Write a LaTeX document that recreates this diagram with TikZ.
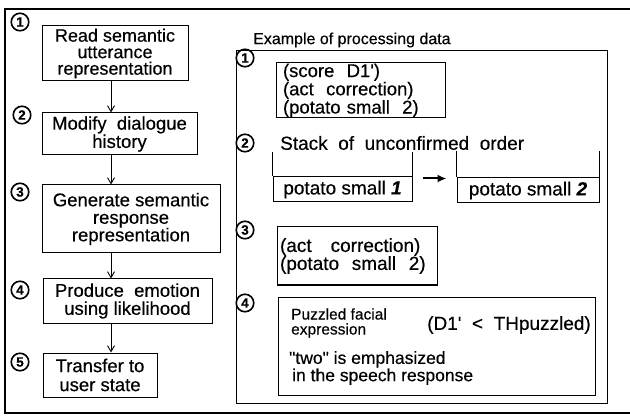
\documentclass[tikz,border=0pt]{standalone}
\usepackage{fontspec}
\setmainfont{Liberation Sans}[FakeBold=0.4]
\usetikzlibrary{arrows.meta}
\newcommand\prm{\textquotesingle}
\newcommand\fsz[2]{\fontsize{#1}{#2}\selectfont}
\tikzset{
  boxline/.style={draw, line width=1pt},
  stepbox/.style={boxline, inner sep=0pt, align=center, font=\fsz{18.5}{16}},
  databox/.style={boxline, inner ysep=0pt, align=left, font=\fsz{18.5}{15}},
  cellbox/.style={boxline, inner sep=0pt, font=\fsz{19}{19}},
  numcirc/.style={circle, draw, line width=1.6pt, inner sep=0pt, minimum size=17.5pt, font=\fsz{13.5}{13.5}\bfseries},
  flow/.style={-{Straight Barb[length=6pt,width=7pt]}, line width=0.9pt},
  bigarrow/.style={-{Latex[length=9pt,width=8pt]}, line width=2pt},
  frameline/.style={line width=2.2pt},
}
\begin{document}
\begin{tikzpicture}[x=1pt, y=-1pt]
\useasboundingbox (0,0) rectangle (630,417);

% outer frame
\draw[frameline] (630,9) -- (5,9) -- (5,413) -- (630,413);

% ---------- processing steps ----------
\node[stepbox, minimum width=146pt, minimum height=55pt, font=\fsz{18}{16.5}] (b1) at (115,53.5)
  {Read semantic\\utterance\\representation};
\node[stepbox, minimum width=155pt, minimum height=42pt, font=\fsz{18.5}{16.5}] (b2) at (119.5,134)
  {Modify\ \ dialogue\\history};
\node[stepbox, minimum width=178pt, minimum height=68pt, font=\fsz{18.5}{17.5}] (b3) at (131,219)
  {Generate semantic\\response\\representation};
\node[stepbox, minimum width=169pt, minimum height=44pt, font=\fsz{18.5}{18}] (b4) at (127.5,301)
  {Produce\ \ emotion\\using likelihood};
\node[stepbox, minimum width=114pt, minimum height=44pt, font=\fsz{18.5}{19}] (b5) at (100,375)
  {Transfer to\\user state};

\node[numcirc] (n1) at (20,22) {1};
\node[numcirc] (n2) at (22,115) {2};
\node[numcirc] (n3) at (20,192) {3};
\node[numcirc] (n4) at (20,290) {4};
\node[numcirc] (n5) at (20,362) {5};

\coordinate (ax) at (111,0);
\draw[flow] (b1.south -| ax) -- (b2.north -| ax);
\draw[flow] (b2.south -| ax) -- (b3.north -| ax);
\draw[flow] (b3.south -| ax) -- (b4.north -| ax);
\draw[flow] (b4.south -| ax) -- (b5.north -| ax);

% ---------- example of processing data ----------
\node[anchor=west, inner sep=0pt, font=\fsz{16}{16}] (title) at (253,40)
  {Example of processing data};
\node[boxline, minimum width=371pt, minimum height=352pt, inner sep=0pt] (panel) at (421.5,227) {};

% (1) semantic utterance representation
\node[databox, text width=155pt, inner xsep=7pt, minimum height=55pt] (r1) at (360.5,90.5)
  {(score\ \ D1\prm)\\(act\ \ correction)\\(potato small\ \ 2)};
\node[numcirc] (m1) at (245,58) {1};

% (2) stack of unconfirmed order
\node[numcirc] (m2) at (245,143) {2};
\node[anchor=west, inner sep=0pt, font=\fsz{19}{19}] (stack) at (280,143)
  {Stack\ \ of\ \ unconfirmed\ \ order};
\node[cellbox, minimum width=139pt, minimum height=25pt] (s1) at (342.5,189.5)
  {potato small \textbf{\textit{1}}};
\node[cellbox, minimum width=142pt, minimum height=25pt] (s2) at (528,190.5)
  {potato small \textbf{\textit{2}}};
\draw[line width=1pt] (s1.north west) -- ++(0,-24);
\draw[line width=1pt] (s1.north east) -- ++(0,-24);
\draw[line width=1pt] (s2.north west) -- ++(0,-26);
\draw[line width=1pt] (s2.north east) -- ++(0,-26);
\draw[bigarrow, shorten <=10pt, shorten >=10pt]
  ([yshift=-2pt]s1.north east) -- ([yshift=-2pt]s1.north east -| s2.west);

% (3) semantic response representation
\node[numcirc] (m3) at (245,230) {3};
\node[databox, text width=154pt, inner xsep=3pt, minimum height=58pt, font=\fsz{19}{18}] (r3) at (357,256)
  {(act\ \ \ correction)\\(potato\ \ small\ \ 2)};

% (4) produced emotion and speech
\node[numcirc] (m4) at (245,303) {4};
\node[boxline, minimum width=317pt, minimum height=98pt, inner sep=0pt] (r4) at (436.5,346) {};
\node[anchor=west, inner sep=0pt, align=left, font=\fsz{15.5}{15}] (puz) at (291,323)
  {Puzzled facial\\expression};
\node[anchor=east, inner sep=0pt, font=\fsz{19}{19}] (cond) at (591,325)
  {(D1\prm\ \ <\ \ THpuzzled)};
\node[anchor=west, inner sep=0pt, align=left, font=\fsz{17.5}{16}] (emph) at (289,368)
  {\textquotedbl two\textquotedbl\ is emphasized\\\hspace{3pt}in the speech response};
\end{tikzpicture}
\end{document}
